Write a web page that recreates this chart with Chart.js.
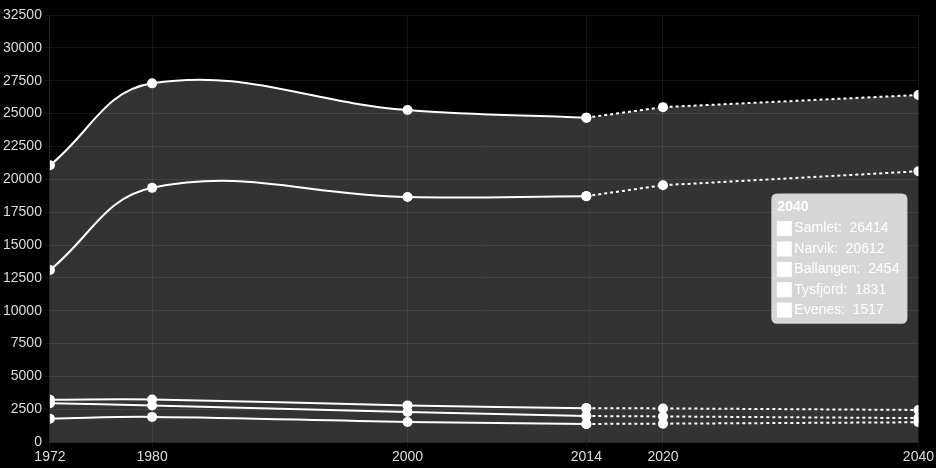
<!DOCTYPE html>
<html>
<head>
<meta charset="utf-8">
<script src="https://cdn.jsdelivr.net/npm/chart.js@4/dist/chart.umd.min.js"></script>
<style>
  html, body { margin: 0; padding: 0; background: #000; }
  #wrap { width: 936px; height: 468px; }
</style>
</head>
<body>
<div id="wrap"><canvas id="c" width="936" height="468"></canvas></div>
<script>
const years = [1972, 1980, 2000, 2014, 2020, 2040];
const seriesNames = ['Samlet', 'Narvik', 'Ballangen', 'Tysfjord', 'Evenes'];
const samlet    = [21070, 27300, 25270, 24690, 25490, 26414];
const narvik    = [13100, 19350, 18650, 18720, 19550, 20612];
const ballangen = [3230, 3250, 2800, 2590, 2570, 2454];
const tysfjord  = [2960, 2790, 2300, 1990, 1960, 1831];
const evenes    = [1780, 1925, 1540, 1390, 1410, 1517];
const yTicks = { min: 0, max: 32500, step: 2500 };
const lastHistoricIndex = 3; // 2014: later values are projections (dotted)

const allValues = [samlet, narvik, ballangen, tysfjord, evenes];

Chart.Tooltip.positioners.midRange = function (items) {
  if (!items.length) return false;
  const ys = items.map(i => i.element.y);
  return { x: items[0].element.x, y: (Math.min(...ys) + Math.max(...ys)) / 2 };
};

function makeDs(i, from, to, projected) {
  return {
    label: seriesNames[i],
    data: allValues[i].slice(from, to).map((v, j) => ({ x: years[from + j], y: v })),
    borderColor: '#ffffff',
    backgroundColor: i === 0 ? 'rgba(255,255,255,0.2)' : 'rgba(0,0,0,0)',
    fill: i === 0 ? 'origin' : false,
    borderWidth: 2,
    borderDash: projected ? [3, 3] : [],
    pointRadius: 5,
    pointBorderWidth: 0,
    pointBackgroundColor: '#ffffff',
    pointHoverRadius: 5,
    tension: projected ? 0 : 0.4,
    projected
  };
}

const datasets = [];
allValues.forEach((v, i) => datasets.push(makeDs(i, 0, lastHistoricIndex + 1, false)));
allValues.forEach((v, i) => datasets.push(makeDs(i, lastHistoricIndex, years.length, true)));

const chart = new Chart(document.getElementById('c'), {
  type: 'line',
  data: { datasets },
  options: {
    responsive: false,
    animation: false,
    events: [],
    layout: { padding: { top: 15, right: 2, left: 0, bottom: 0 } },
    plugins: {
      legend: { display: false },
      tooltip: {
        enabled: true,
        position: 'midRange',
        xAlign: 'right',
        yAlign: 'center',
        caretSize: 0,
        caretPadding: 11,
        backgroundColor: 'rgba(255,255,255,0.8)',
        titleColor: '#ffffff',
        bodyColor: '#ffffff',
        titleFont: { family: 'Liberation Sans, Arial, sans-serif', size: 14, weight: 'bold', lineHeight: 1.1 },
        bodyFont: { family: 'Liberation Sans, Arial, sans-serif', size: 14, lineHeight: 1.1 },
        titleMarginBottom: 6,
        bodySpacing: 5,
        padding: { top: 6, bottom: 6, left: 6, right: 8 },
        cornerRadius: 6,
        boxWidth: 14,
        boxHeight: 14,
        boxPadding: 1,
        displayColors: true,
        callbacks: {
          title: items => String(items[0].parsed.x),
          label: item => item.dataset.label + ':  ' + item.parsed.y,
          labelColor: () => ({ borderColor: '#ffffff', backgroundColor: '#ffffff', borderWidth: 0 })
        }
      }
    },
    scales: {
      x: {
        type: 'linear',
        min: years[0],
        max: years[years.length - 1],
        afterBuildTicks: axis => { axis.ticks = years.map(v => ({ value: v })); },
        ticks: {
          color: '#dddddd',
          font: { family: 'Liberation Sans, Arial, sans-serif', size: 14 },
          padding: 2,
          maxRotation: 0,
          autoSkip: false,
          callback: v => String(v)
        },
        grid: { color: 'rgba(255,255,255,0.08)', tickLength: 5, drawTicks: true },
        border: { color: 'rgba(255,255,255,0.08)' }
      },
      y: {
        min: yTicks.min,
        max: yTicks.max,
        ticks: {
          stepSize: yTicks.step,
          color: '#dddddd',
          font: { family: 'Liberation Sans, Arial, sans-serif', size: 14 },
          padding: 3,
          callback: v => String(v)
        },
        grid: { color: 'rgba(255,255,255,0.08)', tickLength: 5, drawTicks: true },
        border: { color: 'rgba(255,255,255,0.08)' }
      }
    }
  }
});

const active = [];
datasets.forEach((d, i) => {
  if (d.projected) active.push({ datasetIndex: i, index: d.data.length - 1 });
});
const el = chart.getDatasetMeta(active[0].datasetIndex).data[active[0].index];
chart.tooltip.setActiveElements(active, { x: el.x, y: el.y });
chart.update();
</script>
</body>
</html>
